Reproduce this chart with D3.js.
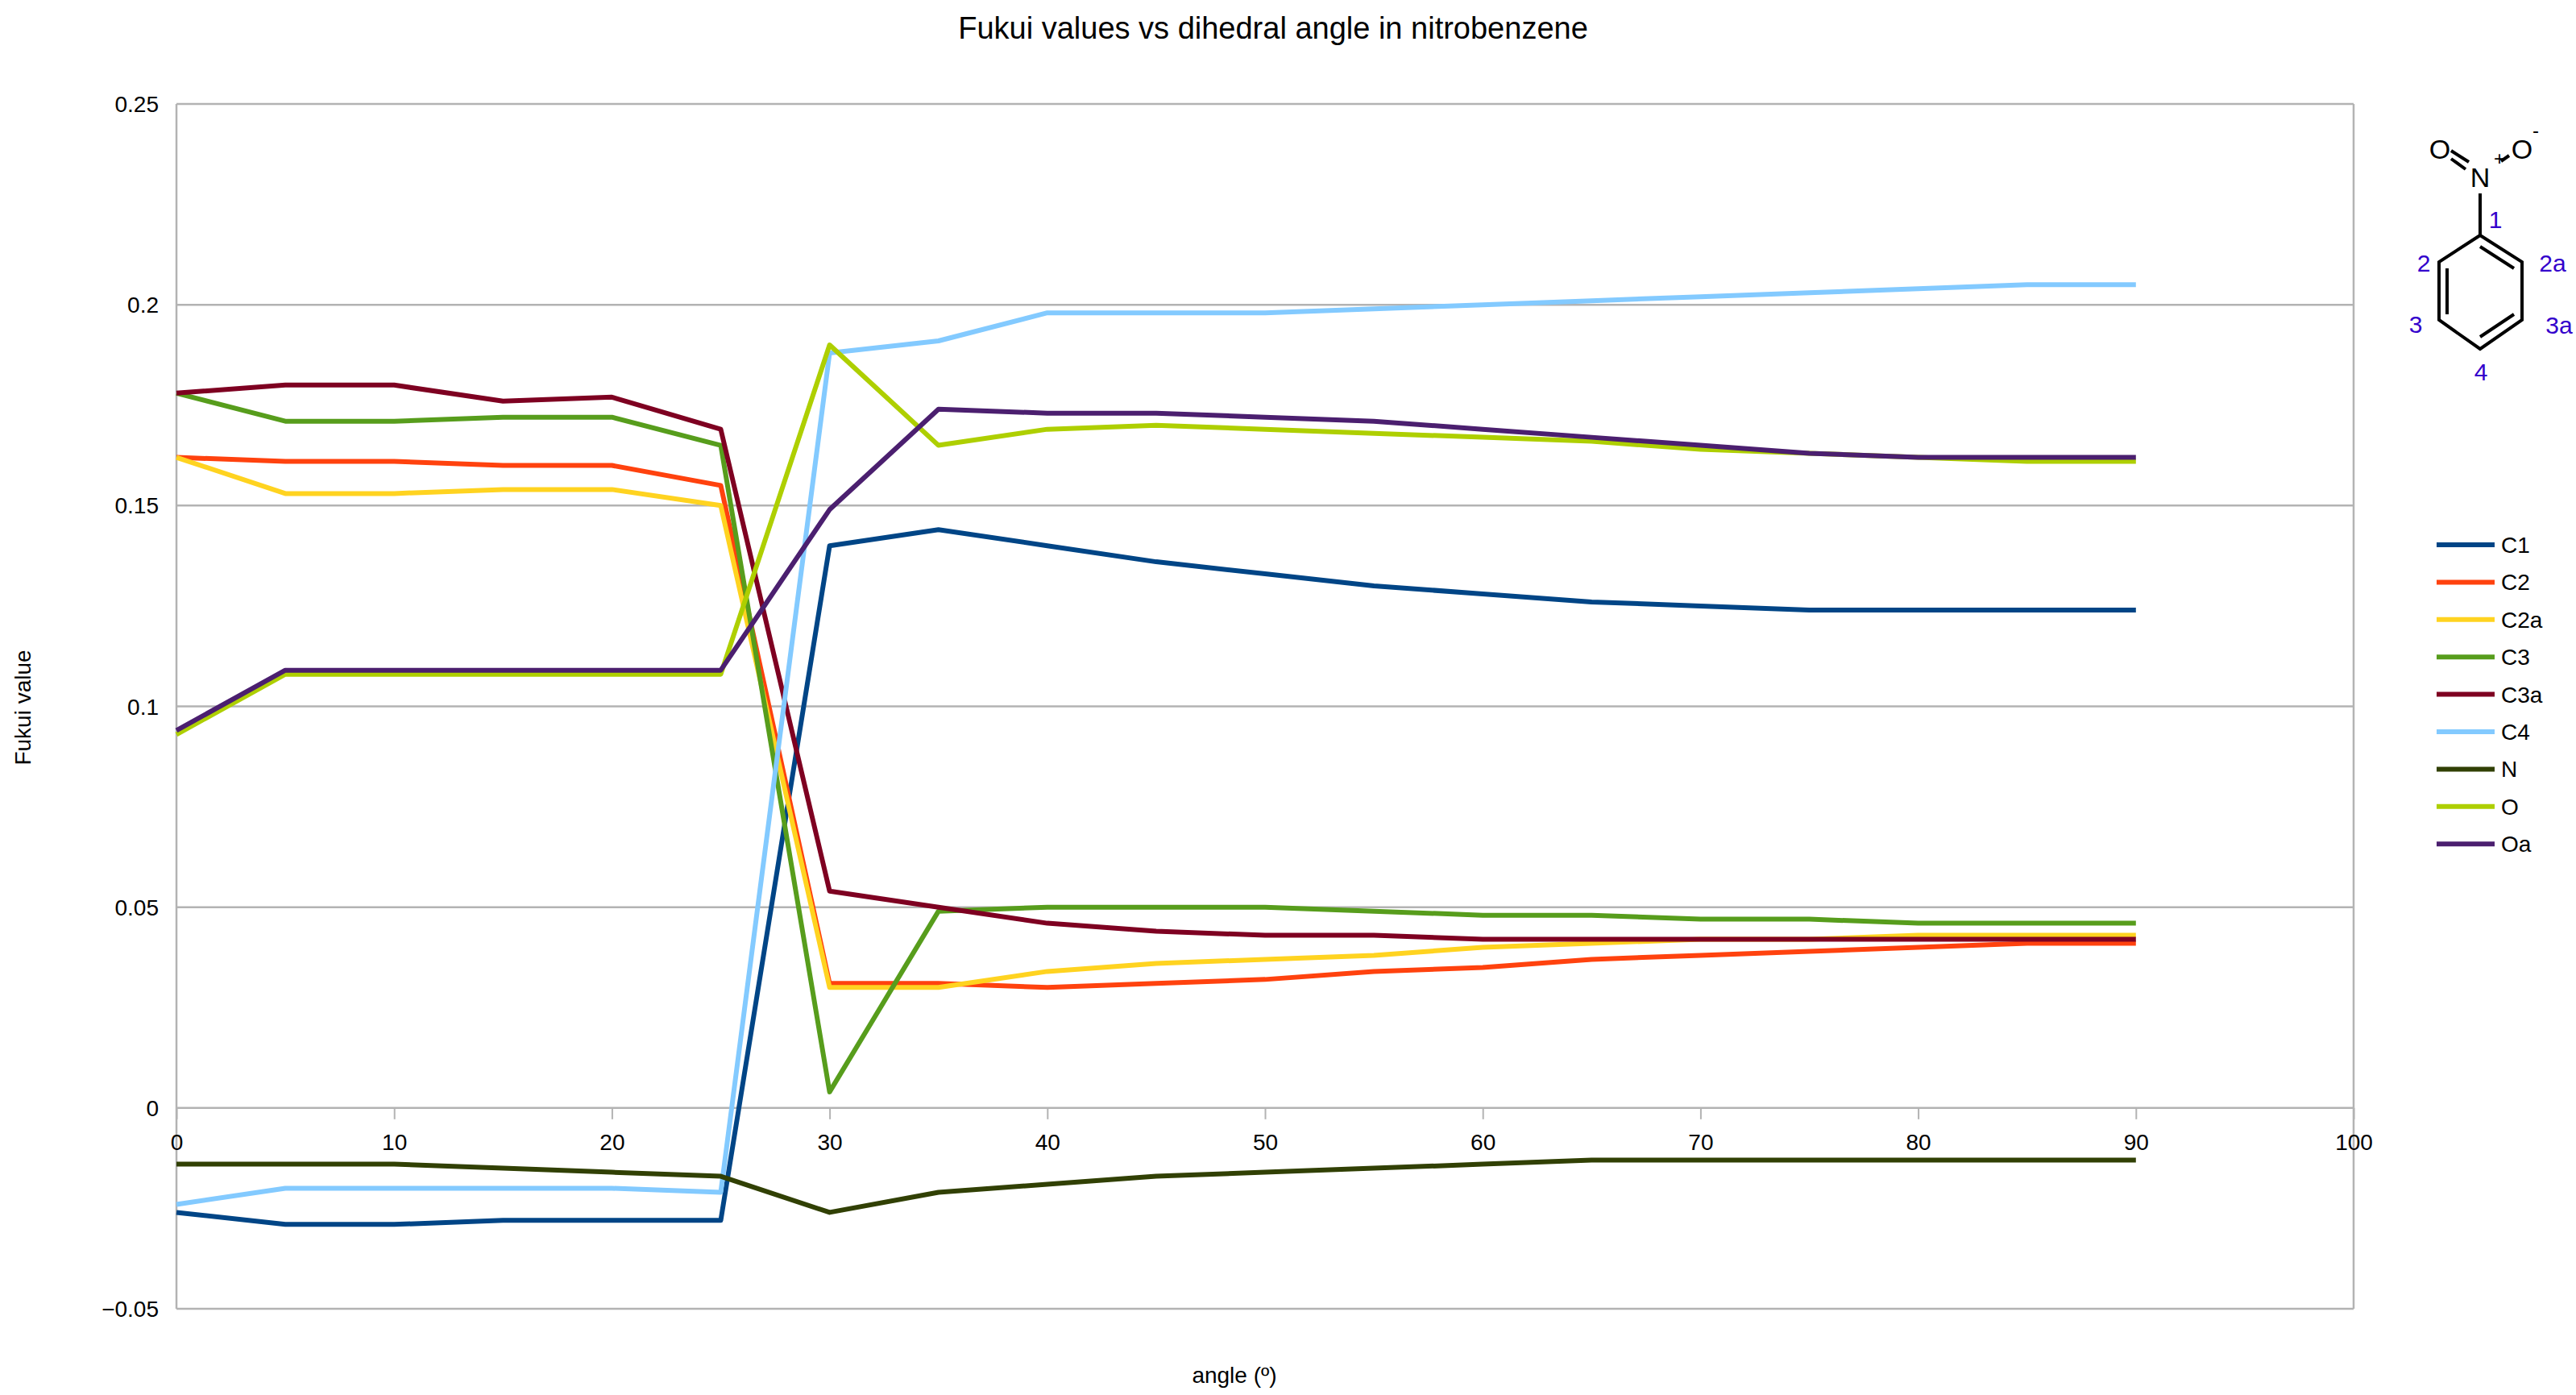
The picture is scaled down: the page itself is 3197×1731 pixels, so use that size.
<!DOCTYPE html>
<html><head><meta charset="utf-8">
<script src="https://cdn.jsdelivr.net/npm/d3@7"></script>
<style>body{margin:0;background:#fff}text{font-family:"Liberation Sans",Arial,sans-serif}</style>
</head><body>
<script>
var angles = [0,5,10,15,20,25,30,35,40,45,50,55,60,65,70,75,80,85,90];
var names = ["C1","C2","C2a","C3","C3a","C4","N","O","Oa"];
var colors = ["#004586","#ff420e","#ffd320","#579d1c","#7e0021","#83caff","#314004","#aecf00","#4b1f6f"];
var C1  = [-0.026,-0.029,-0.029,-0.028,-0.028,-0.028,0.140,0.144,0.140,0.136,0.133,0.130,0.128,0.126,0.125,0.124,0.124,0.124,0.124];
var C2  = [0.162,0.161,0.161,0.160,0.160,0.155,0.031,0.031,0.030,0.031,0.032,0.034,0.035,0.037,0.038,0.039,0.040,0.041,0.041];
var C2a = [0.162,0.153,0.153,0.154,0.154,0.150,0.030,0.030,0.034,0.036,0.037,0.038,0.040,0.041,0.042,0.042,0.043,0.043,0.043];
var C3  = [0.178,0.171,0.171,0.172,0.172,0.165,0.004,0.049,0.050,0.050,0.050,0.049,0.048,0.048,0.047,0.047,0.046,0.046,0.046];
var C3a = [0.178,0.180,0.180,0.176,0.177,0.169,0.054,0.050,0.046,0.044,0.043,0.043,0.042,0.042,0.042,0.042,0.042,0.042,0.042];
var C4  = [-0.024,-0.020,-0.020,-0.020,-0.020,-0.021,0.188,0.191,0.198,0.198,0.198,0.199,0.200,0.201,0.202,0.203,0.204,0.205,0.205];
var N   = [-0.014,-0.014,-0.014,-0.015,-0.016,-0.017,-0.026,-0.021,-0.019,-0.017,-0.016,-0.015,-0.014,-0.013,-0.013,-0.013,-0.013,-0.013,-0.013];
var O   = [0.093,0.108,0.108,0.108,0.108,0.108,0.190,0.165,0.169,0.170,0.169,0.168,0.167,0.166,0.164,0.163,0.162,0.161,0.161];
var Oa  = [0.094,0.109,0.109,0.109,0.109,0.109,0.149,0.174,0.173,0.173,0.172,0.171,0.169,0.167,0.165,0.163,0.162,0.162,0.162];
var series = [C1,C2,C2a,C3,C3a,C4,N,O,Oa];
var yTicks = [-0.05,0,0.05,0.1,0.15,0.2,0.25];
var xTicks = [0,10,20,30,40,50,60,70,80,90,100];

var width = 3197, height = 1731;
var svg = d3.select("body").append("svg").attr("width", width).attr("height", height);

var x = d3.scaleLinear().domain([0,100]).range([219,2921]);
var y = d3.scaleLinear().domain([-0.05,0.25]).range([1624,129]);

// grid
svg.selectAll(".grid").data(yTicks).enter().append("line")
    .attr("x1", x(0)).attr("x2", x(100))
    .attr("y1", function(d){return y(d)}).attr("y2", function(d){return y(d)})
    .attr("stroke", "#b3b3b3").attr("stroke-width", 2.5);
svg.append("line").attr("x1", x(0)).attr("x2", x(0)).attr("y1", y(0.25)).attr("y2", y(-0.05))
    .attr("stroke", "#b3b3b3").attr("stroke-width", 2.5);
svg.append("line").attr("x1", x(100)).attr("x2", x(100)).attr("y1", y(0.25)).attr("y2", y(-0.05))
    .attr("stroke", "#b3b3b3").attr("stroke-width", 2.5);

// y labels
svg.selectAll(".yl").data(yTicks).enter().append("text")
    .attr("x", 197).attr("y", function(d){return y(d) + 10})
    .attr("text-anchor", "end").attr("font-size", 28)
    .text(function(d){return d === 0 ? "0" : d3.format("")(d)});

// x axis at y=0
var xAxis = svg.append("g").attr("transform", "translate(0," + y(0) + ")")
    .call(d3.axisBottom(x).tickValues(xTicks).tickSize(14).tickPadding(18).tickFormat(d3.format("d")));
xAxis.select(".domain").remove();
xAxis.selectAll("line").attr("stroke", "#b3b3b3").attr("stroke-width", 2);
xAxis.selectAll("text").attr("font-size", 28).attr("font-family", "Liberation Sans, Arial, sans-serif");

// lines
var line = d3.line().x(function(d, i){return x(angles[i])}).y(function(d){return y(d)});
svg.selectAll(".series").data(series).enter().append("path")
    .attr("d", line).attr("fill", "none")
    .attr("stroke", function(d, i){return colors[i]})
    .attr("stroke-width", 6).attr("stroke-linejoin", "round");

// titles
svg.append("text").attr("x", 1580).attr("y", 48).attr("text-anchor", "middle")
    .attr("font-size", 38).text("Fukui values vs dihedral angle in nitrobenzene");
svg.append("text").attr("x", 1532).attr("y", 1716).attr("text-anchor", "middle")
    .attr("font-size", 28).text("angle (º)");
svg.append("text").attr("transform", "translate(38,878) rotate(-90)").attr("text-anchor", "middle")
    .attr("font-size", 28).text("Fukui value");

// legend
var leg = svg.selectAll(".leg").data(names).enter().append("g")
    .attr("transform", function(d, i){return "translate(3024," + (676 + i * 46.4) + ")"});
leg.append("line").attr("x1", 0).attr("x2", 72).attr("stroke-width", 6)
    .attr("stroke", function(d, i){return colors[i]});
leg.append("text").attr("x", 80).attr("y", 10).attr("font-size", 28).text(function(d){return d});

// molecule
var m = svg.append("g").attr("stroke", "#000").attr("stroke-width", 4).attr("fill", "none");
var ring = [[3078,292],[3130,325],[3130,397],[3078,433],[3027,397],[3027,325]];
m.append("path").attr("d", "M" + ring.join("L") + "Z");
m.append("line").attr("x1",3078).attr("y1",306).attr("x2",3120).attr("y2",333);
m.append("line").attr("x1",3120).attr("y1",390).attr("x2",3078).attr("y2",418);
m.append("line").attr("x1",3037).attr("y1",333).attr("x2",3037).attr("y2",390);
m.append("line").attr("x1",3078).attr("y1",240).attr("x2",3078).attr("y2",292);
m.append("line").attr("x1",3042).attr("y1",187).attr("x2",3064).attr("y2",201);
m.append("line").attr("x1",3042).attr("y1",197).attr("x2",3060).attr("y2",210);
m.append("line").attr("x1",3104).attr("y1",200).attr("x2",3114).attr("y2",193);
var atoms = [["O",3028,197],["N",3078,232],["O",3130,197]];
svg.selectAll(".atom").data(atoms).enter().append("text")
    .attr("x", function(d){return d[1]}).attr("y", function(d){return d[2]})
    .attr("text-anchor", "middle").attr("font-size", 34).text(function(d){return d[0]});
svg.append("text").attr("x", 3095).attr("y", 205).attr("font-size", 24).text("+");
svg.append("text").attr("x", 3143).attr("y", 170).attr("font-size", 24).text("-");
var labels = [["1",3097,283],["2",3008,337],["2a",3168,337],["3",2998,413],["3a",3176,414],["4",3079,472]];
svg.selectAll(".num").data(labels).enter().append("text")
    .attr("x", function(d){return d[1]}).attr("y", function(d){return d[2]})
    .attr("text-anchor", "middle").attr("font-size", 30).attr("fill", "#3300cc").text(function(d){return d[0]});
</script>
</body></html>
